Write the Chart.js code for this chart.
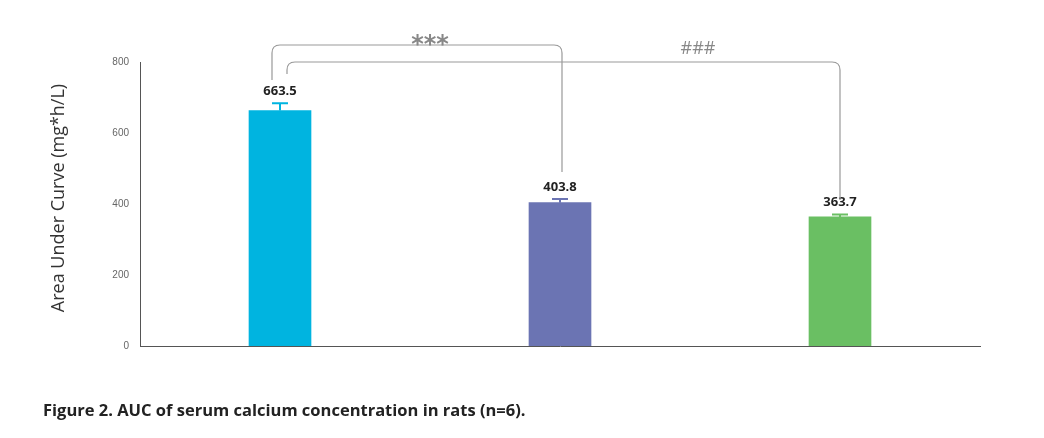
<!DOCTYPE html>
<html><head><meta charset="utf-8">
<script src="https://cdn.jsdelivr.net/npm/chart.js@4/dist/chart.umd.min.js"></script>
<style>body{margin:0;background:#fff;font-family:"Open Sans",sans-serif}
#w{position:relative;width:1044px;height:438px}
#cap{position:absolute;left:43px;top:398px;font:bold 16.5px "Open Sans",sans-serif;color:#222}
</style></head><body><div id="w"><canvas id="c" width="1044" height="438"></canvas>
<div id="cap">Figure 2. AUC of serum calcium concentration in rats (n=6).</div></div>
<script>
const categories=["A","B","C"];
const values=[663.5,403.8,363.7];
const errors=[20,10,7];
const colors=["#00b4e0","#6b74b3","#6abf63"];
const yTicks=[0,200,400,600,800];
const sigLabels=["***","###"];
const deco={id:'deco',afterDatasetsDraw(ch){
 const c=ch.ctx,x=ch.scales.x,y=ch.scales.y,meta=ch.getDatasetMeta(0);
 c.save();
 meta.data.forEach((b,i)=>{
  const top=y.getPixelForValue(values[i]+errors[i]);
  c.strokeStyle=colors[i];c.lineWidth=2;
  c.beginPath();c.moveTo(b.x,b.y);c.lineTo(b.x,top);c.moveTo(b.x-8,top);c.lineTo(b.x+8,top);c.stroke();
  c.fillStyle='#222';c.font='bold 13px "Open Sans",sans-serif';c.textAlign='center';
  c.fillText(values[i].toFixed(1),b.x,top-8);
 });
 c.strokeStyle='#999';c.lineWidth=1.2;
 function br(x1,y1,yt,x2,y2){const r=8;c.beginPath();c.moveTo(x1,y1);c.lineTo(x1,yt+r);c.quadraticCurveTo(x1,yt,x1+r,yt);c.lineTo(x2-r,yt);c.quadraticCurveTo(x2,yt,x2,yt+r);c.lineTo(x2,y2);c.stroke();}
 const p=meta.data;
 br(p[0].x-8,80,45,p[1].x+2,172);
 br(p[0].x+7,74,62,p[2].x,200);
 c.fillStyle='#888';c.textAlign='center';
 c.font='bold 24px "DejaVu Sans",sans-serif';
 c.fillText(sigLabels[0],(p[0].x+p[1].x)/2+10,52);
 c.font='18px "Open Sans",sans-serif';
 c.fillText(sigLabels[1],(p[1].x+p[2].x)/2-2,54);
 c.translate(64,(y.top+y.bottom)/2-6);c.rotate(-Math.PI/2);
 c.fillStyle='#333';c.font='18px "Open Sans",sans-serif';
 c.fillText('Area Under Curve (mg*h/L)',0,0);
 c.restore();
}};
new Chart(document.getElementById('c'),{type:'bar',
 data:{labels:categories,datasets:[{data:values,backgroundColor:colors,barThickness:62}]},
 options:{responsive:false,animation:false,
  layout:{padding:{left:100,right:64,top:62,bottom:92}},
  plugins:{legend:{display:false},tooltip:{enabled:false}},
  scales:{x:{grid:{display:false,drawTicks:false},border:{color:'#555'},ticks:{display:false}},
   y:{min:0,max:800,afterFit:s=>{s.width=40},afterBuildTicks:s=>{s.ticks=yTicks.map(v=>({value:v}))},
    grid:{display:false},border:{color:'#555'},ticks:{color:'#666',font:{size:10}}}}},
 plugins:[deco]});
</script></body></html>
